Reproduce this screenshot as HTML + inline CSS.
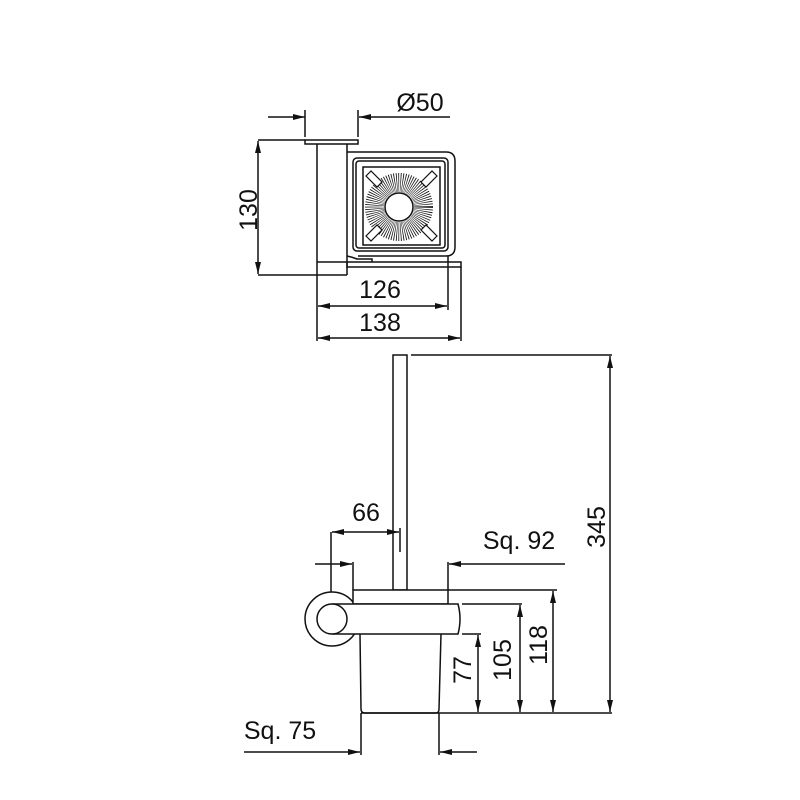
<!DOCTYPE html>
<html><head><style>html,body{margin:0;padding:0;background:#fff}svg{display:block}</style></head>
<body>
<svg width="800" height="800" viewBox="0 0 800 800" xmlns="http://www.w3.org/2000/svg">
<defs>
<marker id="a" viewBox="0 0 12 6" refX="12" refY="3" markerWidth="12" markerHeight="6" markerUnits="userSpaceOnUse" orient="auto-start-reverse"><path d="M0,0 L12,3 L0,6 z" fill="#111"/></marker>
</defs>
<g stroke="#111" stroke-width="1.5" fill="none">
<!-- TOP VIEW -->
<line x1="268" y1="117" x2="305" y2="117" marker-end="url(#a)"/>
<line x1="305" y1="110" x2="305" y2="137"/>
<line x1="450" y1="117" x2="359" y2="117" marker-end="url(#a)"/>
<line x1="358" y1="110" x2="358" y2="137"/>
<rect x="305" y="140" width="53" height="4" fill="#fff"/>
<line x1="317" y1="144" x2="317" y2="275"/>
<line x1="347" y1="144" x2="347" y2="275"/>
<line x1="317" y1="262" x2="347" y2="262"/>
<line x1="317" y1="275" x2="347" y2="275"/>
<rect x="347" y="262" width="114" height="5"/>
<path d="M347,152 L446,152 Q455,152 455,161 L455,247 Q455,256 446,256 L358,256"/>
<path d="M347,256 Q352,257 357,259 L372,259 L372,262"/>
<rect x="353" y="158" width="95" height="93" rx="4"/>
<rect x="356" y="161" width="89" height="87" rx="3"/>
<rect x="363" y="167" width="77" height="78"/>
<circle cx="399" cy="207" r="24.5" stroke-width="19" pathLength="160" stroke-dasharray="0.7 1.3"/>
<circle cx="399" cy="207" r="14" fill="#fff"/>
<g stroke-width="1.2" fill="#fff">
<path d="M366,176 L371,171 L382,182 L377,187 z"/>
<path d="M437,176 L432,171 L421,182 L426,187 z"/>
<path d="M366,236 L371,241 L382,230 L377,225 z"/>
<path d="M437,236 L432,241 L421,230 L426,225 z"/>
</g>
<line x1="258" y1="140" x2="305" y2="140"/>
<line x1="258" y1="275" x2="317" y2="275"/>
<line x1="258" y1="208" x2="258" y2="141" marker-end="url(#a)"/>
<line x1="258" y1="208" x2="258" y2="274" marker-end="url(#a)"/>
<line x1="317" y1="275" x2="317" y2="341"/>
<line x1="448" y1="256" x2="448" y2="310"/>
<line x1="461" y1="267" x2="461" y2="341"/>
<line x1="380" y1="306" x2="318" y2="306" marker-end="url(#a)"/>
<line x1="380" y1="306" x2="447" y2="306" marker-end="url(#a)"/>
<line x1="380" y1="338" x2="318" y2="338" marker-end="url(#a)"/>
<line x1="380" y1="338" x2="460" y2="338" marker-end="url(#a)"/>

<!-- SIDE VIEW -->
<rect x="393" y="355" width="14" height="235"/>
<line x1="411" y1="355" x2="612" y2="355"/>
<line x1="610" y1="530" x2="610" y2="356" marker-end="url(#a)"/>
<line x1="610" y1="530" x2="610" y2="712" marker-end="url(#a)"/>
<!-- cup -->
<path d="M360,634 L361,709 Q361,713 365,713 L436,713 Q439,713 439,709 L441,634"/>
<line x1="361" y1="713" x2="612" y2="713"/>
<!-- ring -->
<circle cx="332" cy="619" r="27"/>
<rect x="353" y="590" width="95" height="14" fill="#fff"/>
<path d="M332,604 L458,604 Q462,619 458,634 L332,634" fill="#fff"/>
<circle cx="332" cy="619" r="15" fill="#fff"/>
<!-- 66 -->
<line x1="331" y1="532" x2="331" y2="592"/>
<line x1="400" y1="528" x2="400" y2="552"/>
<line x1="365" y1="532" x2="332" y2="532" marker-end="url(#a)"/>
<line x1="365" y1="532" x2="399" y2="532" marker-end="url(#a)"/>
<!-- small arrows -->
<line x1="315" y1="564" x2="352" y2="564" marker-end="url(#a)"/>
<line x1="353" y1="562" x2="353" y2="590"/>
<line x1="565" y1="564" x2="449" y2="564" marker-end="url(#a)"/>
<line x1="448" y1="562" x2="448" y2="590"/>
<!-- ext lines -->
<line x1="448" y1="590" x2="557" y2="590"/>
<line x1="462" y1="604" x2="522" y2="604"/>
<line x1="462" y1="634" x2="481" y2="634"/>
<line x1="553" y1="650" x2="553" y2="591" marker-end="url(#a)"/>
<line x1="553" y1="650" x2="553" y2="712" marker-end="url(#a)"/>
<line x1="520" y1="660" x2="520" y2="605" marker-end="url(#a)"/>
<line x1="520" y1="660" x2="520" y2="712" marker-end="url(#a)"/>
<line x1="478" y1="670" x2="478" y2="635" marker-end="url(#a)"/>
<line x1="478" y1="670" x2="478" y2="712" marker-end="url(#a)"/>
<!-- sq 75 -->
<line x1="361" y1="713" x2="361" y2="755"/>
<line x1="439" y1="713" x2="439" y2="755"/>
<line x1="244" y1="752" x2="360" y2="752" marker-end="url(#a)"/>
<line x1="477" y1="752" x2="440" y2="752" marker-end="url(#a)"/>
</g>
<g font-family="Liberation Sans, sans-serif" font-size="25" fill="#111">
<text x="420" y="111" text-anchor="middle">Ø50</text>
<text transform="translate(257,210) rotate(-90)" text-anchor="middle">130</text>
<text x="380" y="298" text-anchor="middle">126</text>
<text x="380" y="331" text-anchor="middle">138</text>
<text x="366" y="521" text-anchor="middle">66</text>
<text x="519" y="549" text-anchor="middle">Sq. 92</text>
<text transform="translate(605,527) rotate(-90)" text-anchor="middle">345</text>
<text transform="translate(547,645) rotate(-90)" text-anchor="middle">118</text>
<text transform="translate(511,660) rotate(-90)" text-anchor="middle">105</text>
<text transform="translate(471,670) rotate(-90)" text-anchor="middle">77</text>
<text x="280" y="739" text-anchor="middle">Sq. 75</text>
</g>
</svg>
</body></html>
